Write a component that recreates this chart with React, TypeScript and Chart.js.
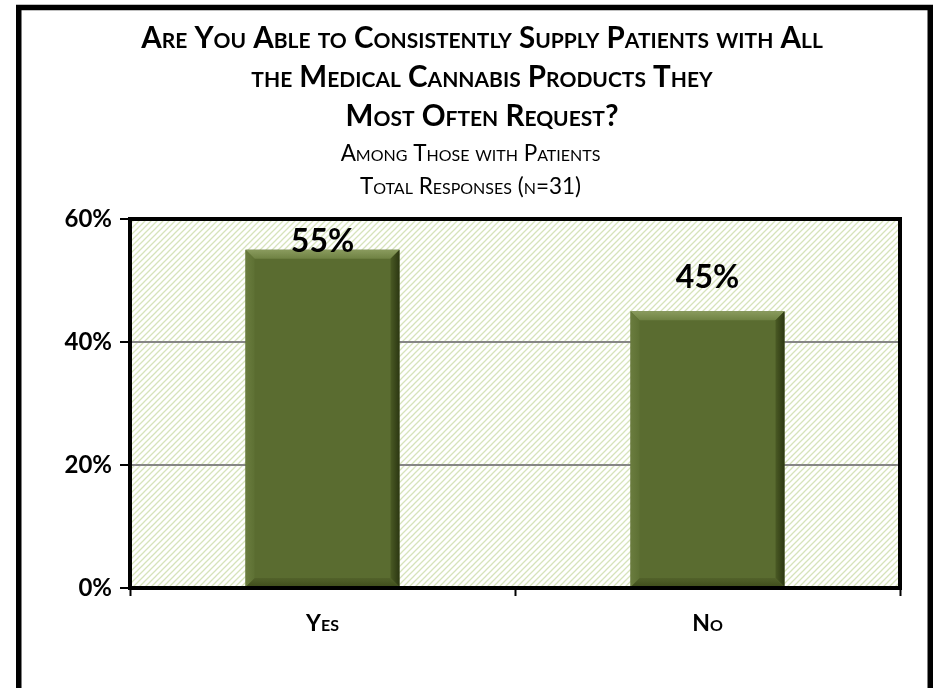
import React, { useEffect, useRef } from "react";
import { Chart, registerables } from "chart.js";

Chart.register(...registerables);

const categories = ["Yes", "No"];
const values = [55, 45];
const yTicks = [0, 20, 40, 60];
const titleLines = [
  "Are You Able to Consistently Supply Patients with All",
  "the Medical Cannabis Products They",
  "Most Often Request?",
];
const subtitleLines = ["Among Those with Patients", "Total Responses (n=31)"];

const FONT = "Lato";
const SUB_PAD = "    ";

const framePlugin = {
  id: "frame",
  beforeDraw(chart: any) {
    const { ctx, chartArea } = chart;
    const { left, top, right, bottom } = chartArea;
    ctx.save();
    ctx.fillStyle = "#ffffff";
    ctx.fillRect(0, 0, chart.width, chart.height);
    const p = document.createElement("canvas");
    p.width = 6;
    p.height = 6;
    const pc = p.getContext("2d")!;
    pc.fillStyle = "#ffffff";
    pc.fillRect(0, 0, 6, 6);
    pc.strokeStyle = "#d6e3bb";
    pc.lineWidth = 1.3;
    pc.beginPath();
    pc.moveTo(-1, 7);
    pc.lineTo(7, -1);
    pc.moveTo(-4, 4);
    pc.lineTo(4, -4);
    pc.moveTo(2, 10);
    pc.lineTo(10, 2);
    pc.stroke();
    const pat = ctx.createPattern(p, "repeat");
    ctx.fillStyle = pat;
    ctx.fillRect(left, top, right - left, bottom - top);
    ctx.restore();
  },
  afterDatasetsDraw(chart: any) {
    const { ctx, chartArea } = chart;
    const meta = chart.getDatasetMeta(0);
    ctx.save();
    meta.data.forEach((bar: any, i: number) => {
      const w = bar.width;
      const l = bar.x - w / 2;
      const r = bar.x + w / 2;
      const t = bar.y;
      const b = bar.base;
      const bv = 9;
      const poly = (pts: number[][], fill: any) => {
        ctx.beginPath();
        ctx.moveTo(pts[0][0], pts[0][1]);
        for (let k = 1; k < pts.length; k++) ctx.lineTo(pts[k][0], pts[k][1]);
        ctx.closePath();
        ctx.fillStyle = fill;
        ctx.fill();
      };
      const gt = ctx.createLinearGradient(0, t, 0, t + bv);
      gt.addColorStop(0, "#8a9b5e");
      gt.addColorStop(1, "#6f8243");
      poly([[l, t], [r, t], [r - bv, t + bv], [l + bv, t + bv]], gt);
      const gr = ctx.createLinearGradient(r - bv, 0, r, 0);
      gr.addColorStop(0, "#4a5a24");
      gr.addColorStop(1, "#2c3712");
      poly([[r, t], [r, b], [r - bv, b - bv], [r - bv, t + bv]], gr);
      const gb = ctx.createLinearGradient(0, b - bv, 0, b);
      gb.addColorStop(0, "#52622a");
      gb.addColorStop(1, "#3f4d1c");
      poly([[l, b], [r, b], [r - bv, b - bv], [l + bv, b - bv]], gb);
      const gl = ctx.createLinearGradient(l, 0, l + bv, 0);
      gl.addColorStop(0, "#6a7c3e");
      gl.addColorStop(1, "#5e7134");
      poly([[l, t], [l, b], [l + bv, b - bv], [l + bv, t + bv]], gl);

      ctx.fillStyle = "#000000";
      ctx.font = `bold 32px ${FONT}`;
      ctx.textAlign = "center";
      ctx.textBaseline = "alphabetic";
      const yLab = Math.max(t - 23, chartArea.top + 33);
      ctx.fillText(values[i] + "%", bar.x, yLab);
    });
    ctx.restore();
  },
  afterDraw(chart: any) {
    const { ctx, chartArea } = chart;
    const { left, top, right, bottom } = chartArea;
    ctx.save();
    ctx.strokeStyle = "#000000";
    ctx.lineWidth = 4;
    ctx.strokeRect(left, top, right - left, bottom - top);
    ctx.lineWidth = 5.5;
    ctx.strokeRect(18.75, 7.5, 911.5, 684);
    ctx.restore();
  },
};

export default function App() {
  const ref = useRef<HTMLCanvasElement>(null);
  useEffect(() => {
    const chart = new Chart(ref.current!, {
      type: "bar",
      data: {
        labels: categories,
        datasets: [
          {
            data: values,
            backgroundColor: "#5a6c30",
            barPercentage: 0.4,
            categoryPercentage: 1,
          },
        ],
      },
      options: {
        animation: false,
        responsive: false,
        layout: { padding: { left: 64, right: 36, top: 0, bottom: 0 } },
        plugins: {
          legend: { display: false },
          tooltip: { enabled: false },
          title: {
            display: true,
            text: titleLines,
            color: "#000000",
            font: { family: FONT, size: 29.5, weight: "small-caps bold" as any, lineHeight: 39 / 29.5 },
            padding: { top: 19, bottom: 0 },
          },
          subtitle: {
            display: true,
            text: subtitleLines.map((s) => s + SUB_PAD),
            color: "#000000",
            font: { family: FONT, size: 22.5, weight: "small-caps" as any, lineHeight: 33 / 22.5 },
            padding: { top: 1, bottom: 16 },
          },
        },
        scales: {
          x: {
            afterFit: (s: any) => {
              s.height = 100;
            },
            grid: {
              display: true,
              drawOnChartArea: false,
              drawTicks: true,
              tickLength: 8,
              tickColor: "#000000",
              tickWidth: 2,
              offset: true,
            },
            border: { display: true, color: "#000000", width: 4 },
            ticks: {
              color: "#000000",
              padding: 14,
              font: { family: FONT, size: 23, weight: "small-caps bold" as any },
            },
          },
          y: {
            min: 0,
            max: 60,
            afterFit: (s: any) => {
              s.width = 66;
            },
            afterBuildTicks: (s: any) => {
              s.ticks = yTicks.map((v) => ({ value: v }));
            },
            grid: {
              color: "#868686",
              lineWidth: 2,
              tickLength: 10,
              tickColor: "#000000",
              tickWidth: 2,
            },
            border: { display: true, color: "#000000", width: 4 },
            ticks: {
              color: "#000000",
              padding: 8,
              font: { family: FONT, size: 24, weight: "bold" },
              callback: (v: any) => v + "%",
            },
          },
        },
      },
      plugins: [framePlugin],
    });
    return () => chart.destroy();
  }, []);
  return (
    <div style={{ position: "fixed", left: 0, top: 0, width: 936, height: 688 }}>
      <canvas ref={ref} width={936} height={688} style={{ display: "block" }} />
    </div>
  );
}
